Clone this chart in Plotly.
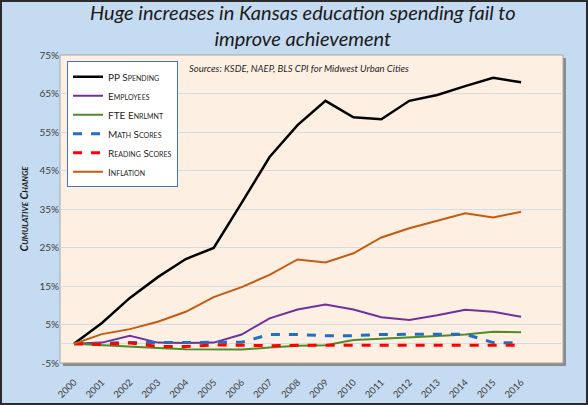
import plotly.graph_objects as go

years = list(range(2000, 2017))

pp_spending = [0, 5.4, 11.9, 17.3, 22.0, 24.9, 36.6, 48.5, 56.8, 63.1, 58.8, 58.3, 63.1, 64.6, 66.9, 69.1, 67.9]
employees = [0, 0.3, 2.1, 0.3, 0.2, 0.3, 2.4, 6.6, 8.9, 10.2, 8.9, 6.9, 6.2, 7.4, 8.8, 8.3, 7.0]
fte_enrlmnt = [0, -0.4, -0.7, -1.1, -1.4, -1.5, -1.5, -1.0, -0.5, -0.4, 1.0, 1.3, 1.6, 2.0, 2.4, 3.1, 3.0]
math_scores = [0, 0.2, 0.3, 0.3, 0.3, 0.3, 0.4, 2.4, 2.4, 2.1, 2.1, 2.4, 2.5, 2.5, 2.5, 0.3, 0.2]
reading_scores = [0, -0.2, 0.2, -0.7, -0.7, -0.3, -0.4, -0.5, -0.4, -0.4, -0.4, -0.4, -0.4, -0.4, -0.4, -0.4, -0.4]
inflation = [0, 2.5, 3.8, 5.7, 8.3, 12.1, 14.7, 17.9, 21.9, 21.1, 23.5, 27.6, 30.0, 32.0, 33.9, 32.8, 34.3]

y_ticks = [-5, 5, 15, 25, 35, 45, 55, 65, 75]
y_labels = ["-5%", "5%", "15%", "25%", "35%", "45%", "55%", "65%", "75%"]

title_text = "Huge increases in Kansas education spending fail to<br>improve achievement"
source_text = "Sources: KSDE, NAEP, BLS CPI for Midwest Urban Cities"

series = [
    ("PP Spending", pp_spending, "#000000", "solid", 2.5),
    ("Employees", employees, "#7030A0", "solid", 2),
    ("FTE Enrlmnt", fte_enrlmnt, "#4F8A2B", "solid", 2),
    ("Math Scores", math_scores, "#1F6FC5", "dash", 3),
    ("Reading Scores", reading_scores, "#FF0000", "dash", 3),
    ("Inflation", inflation, "#C55A11", "solid", 2),
]

W, H = 588, 405
L, R, T, B = 60, 25, 55, 42
pw, ph = W - L - R, H - T - B

fig = go.Figure()
for name, vals, color, dash, width in series:
    fig.add_trace(go.Scatter(
        x=years, y=vals, name=name, mode="lines",
        line=dict(color=color, dash=dash, width=width),
    ))

px = 1.0 / pw
py = 1.0 / ph
shapes = [
    # outer frame
    dict(type="rect", xref="paper", yref="paper",
         x0=-L * px + px, x1=(W - L) * px - px,
         y0=-B * py + py, y1=1 + (T - 1) * py,
         line=dict(color="#2b2b2b", width=2), fillcolor="rgba(0,0,0,0)", layer="below"),
    # plot shadow
    dict(type="rect", xref="paper", yref="paper",
         x0=3 * px, x1=1 + 3 * px, y0=-3 * py, y1=1 - 3 * py,
         line=dict(width=0), fillcolor="#8c8c8c", layer="below"),
    # plot background
    dict(type="rect", xref="paper", yref="paper",
         x0=0, x1=1, y0=0, y1=1,
         line=dict(color="#a6a6a6", width=1), fillcolor="#FDF0E3", layer="below"),
]

fig.update_layout(
    width=W, height=H,
    margin=dict(l=L, r=R, t=T, b=B),
    paper_bgcolor="#C5DBF1",
    plot_bgcolor="rgba(0,0,0,0)",
    font=dict(family="Lato, Open Sans, sans-serif", color="#404040"),
    shapes=shapes,
    showlegend=True,
    legend=dict(x=0.014, y=0.98, xanchor="left", yanchor="top",
                bgcolor="#FFFFFF", bordercolor="#4472C4", borderwidth=1,
                font=dict(size=10, variant="small-caps", color="#262626"),
                tracegroupgap=0, itemwidth=30),
    annotations=[
        dict(text=title_text, xref="paper", yref="paper", x=0.483, y=1 + (T + 2) * py,
             xanchor="center", yanchor="top", showarrow=False,
             font=dict(size=20, style="italic", color="#1a1a1a")),
        dict(text=source_text, xref="paper", yref="paper", x=0.253, y=0.98,
             xanchor="left", yanchor="top", showarrow=False,
             font=dict(size=9.5, style="italic", color="#262626")),
    ],
)

fig.update_xaxes(
    range=[1999.5, 2017.5], tickvals=years, tickangle=-45,
    showgrid=False, zeroline=False, showline=False, automargin=False,
    ticks="outside", ticklen=9, tickcolor="rgba(0,0,0,0)",
    tickfont=dict(size=9.5, color="#404040"),
)
fig.update_yaxes(
    range=[-5, 75], tickvals=y_ticks, ticktext=y_labels, automargin=False,
    showgrid=True, gridcolor="#D6DCE4", gridwidth=1,
    zeroline=True, zerolinecolor="#D6DCE4", zerolinewidth=1,
    showline=False, ticks="", ticklen=0,
    tickfont=dict(size=10, color="#404040"),
    title=dict(text="<b><i>Cumulative Change</i></b>", standoff=8,
               font=dict(size=11, variant="small-caps", color="#1a1a1a")),
)

fig.write_html("out.html", config={"displayModeBar": False},
               post_script="document.body.style.margin='0';")
